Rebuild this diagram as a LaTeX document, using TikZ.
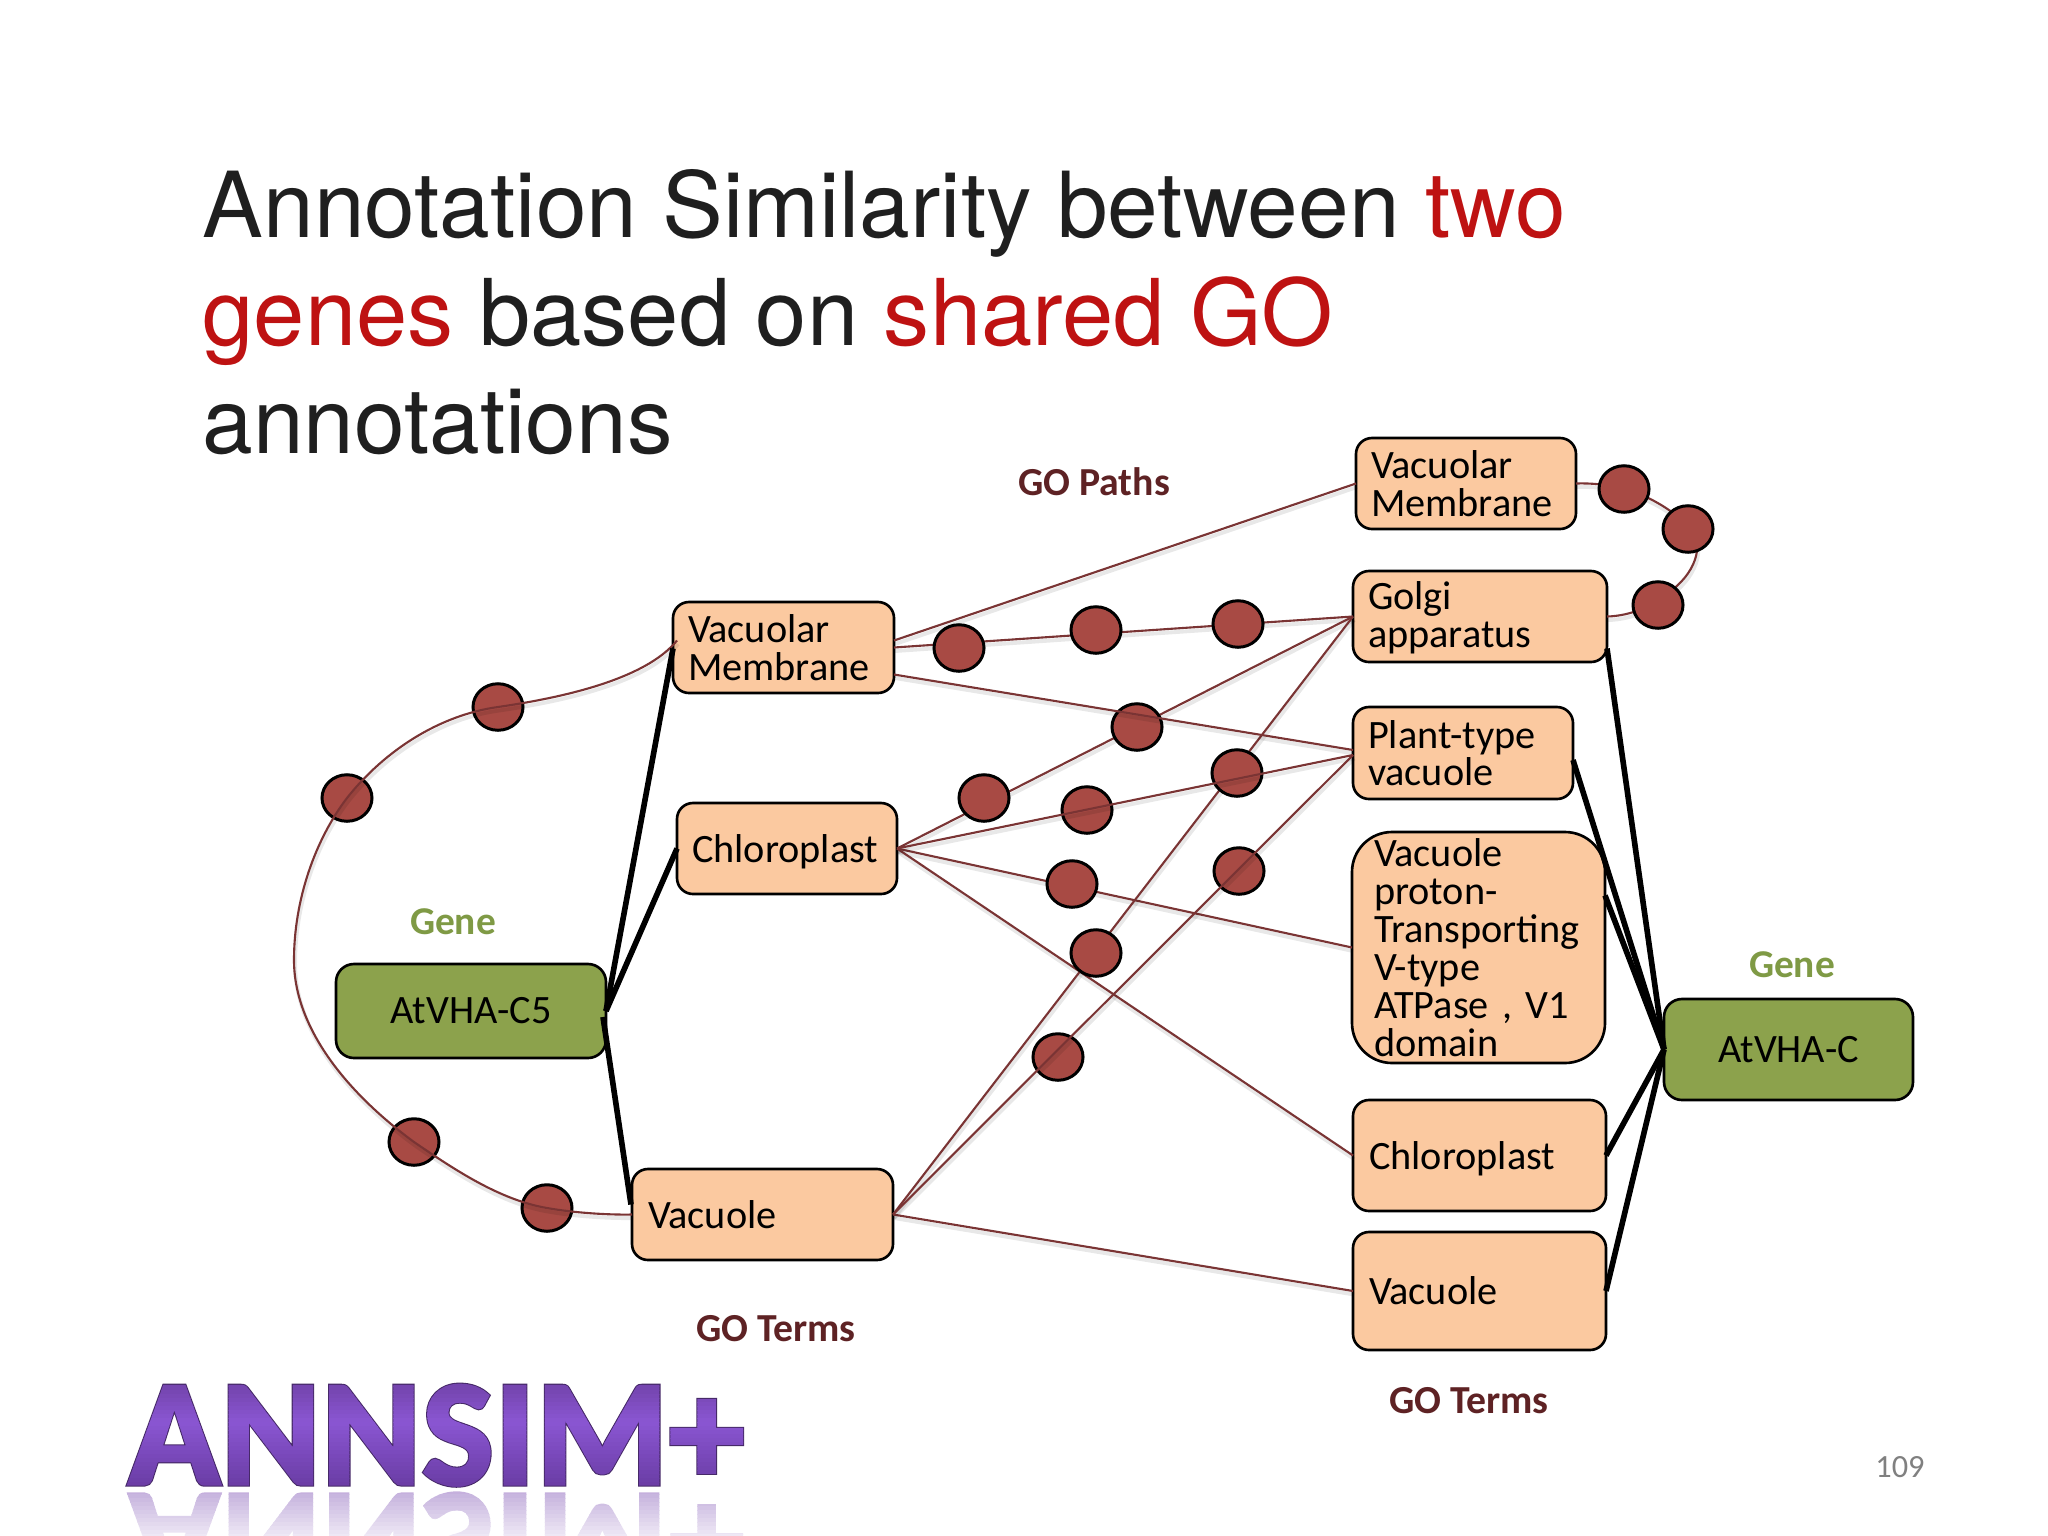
\documentclass[tikz,border=0pt]{standalone}
\usepackage{fontspec}
\usetikzlibrary{calc,shapes.geometric}
\setmainfont{Carlito}
\newfontfamily\titlefont{TeX Gyre Heros}
\newfontfamily\logofont{Carlito}[LetterSpace=0.9,BoldFeatures={FakeBold=2.2}]
\newfontfamily\logooutline{Carlito}[LetterSpace=0.9,BoldFeatures={FakeBold=3.6}]
\definecolor{peach}{HTML}{FBC9A0}
\definecolor{leaf}{HTML}{8CA24C}
\definecolor{dot}{HTML}{A84A44}
\definecolor{wirec}{HTML}{7A3434}
\definecolor{titlered}{HTML}{BE1212}
\definecolor{gotext}{HTML}{5E2224}
\definecolor{genetext}{HTML}{7F9A45}
\definecolor{logoA}{HTML}{7444AE}
\definecolor{logoB}{HTML}{8A56D2}
\definecolor{logoC}{HTML}{6A3CA4}
\tikzset{
  x=0.01cm,y=-0.01cm,
  box/.style n args={3}{draw=black,line width=0.75pt,fill=peach,rounded corners=0.16cm,
    align=left,anchor=center,inner ysep=0pt,inner xsep=#3*0.01cm,
    text width=(#1-2*#3)*0.01cm,minimum height=#2*0.01cm,outer sep=0pt,
    font=\fontsize{11.45}{10.7}\selectfont},
  genebox/.style 2 args={draw=black,line width=0.75pt,fill=leaf,rounded corners=0.18cm,
    align=center,anchor=center,inner sep=0pt,minimum width=#1*0.01cm,minimum height=#2*0.01cm,outer sep=0pt,
    font=\fontsize{11.45}{13}\selectfont},
  wire/.style={draw=wirec,line width=0.6pt,
    preaction={draw=black,opacity=0.09,line width=1.1pt,transform canvas={xshift=0.3pt,yshift=-1pt}}},
  thick wire/.style={draw=black,line width=1.6pt},
  blob/.style={ellipse,draw=black,line width=0.85pt,fill=dot,inner sep=0pt,minimum width=0.5cm,minimum height=0.465cm,outer sep=0pt},
  golabel/.style={font=\fontsize{11.3}{13}\selectfont\bfseries,text=gotext,inner sep=0pt},
  genelabel/.style={font=\fontsize{11.2}{13}\selectfont\bfseries,text=genetext,inner sep=0pt},
  titleline/.style={anchor=base west,inner sep=0pt,text=black!88,font=\fontsize{25.9}{30}\titlefont},
}
\begin{document}
\begin{tikzpicture}
\useasboundingbox (0,0) rectangle (2048,1536);
\fill[white] (0,0) rectangle (2048,1536);

% title
\node[titleline] (t1) at (202,237) {Annotation Similarity between \textcolor{titlered}{two}};
\node[titleline,font=\fontsize{26.2}{30}\titlefont] (t2) at (202,345) {\textcolor{titlered}{genes} based on \textcolor{titlered}{shared GO}};
\node[titleline] (t3) at (202,453) {annotations};

% boxes
\node[box={220}{91}{15}] (rvm) at (1466,483.5) {Vacuolar\\Membrane};
\node[box={254}{91}{15}] (golgi) at (1480,616.5) {\rule{0pt}{8.6pt}Golgi\\apparatus};
\node[box={220}{92}{15}] (plant) at (1463,753) {Plant-type\\vacuole};
\node[box={253}{231}{22},rounded corners=0.4cm,font=\fontsize{11.45}{10.8}\selectfont] (proton) at (1478.5,947.5) {Vacuole\\proton-\\Transporting\\V-type\\ATPase , V1\\domain};
\node[box={253}{111}{16}] (chlR) at (1479.5,1155.5) {\rule{0pt}{9.8pt}Chloroplast};
\node[box={253}{118}{16}] (vacR) at (1479.5,1291) {Vacuole};
\node[box={221}{91}{15}] (lvm) at (783.5,647.5) {Vacuolar\\Membrane};
\node[box={220}{91}{15}] (chlL) at (787,848.5) {\rule{0pt}{9.8pt}Chloroplast};
\node[box={261}{91}{16}] (vacL) at (762.5,1214.5) {Vacuole};
\node[genebox={270}{94}] (c5) at (471,1011) {AtVHA-C5};
\node[genebox={249}{101}] (vhac) at (1788.5,1049.5) {AtVHA-C};

% wires under the dots
\path[wire] ([yshift=0.07cm]lvm.east) -- (rvm.west);
\path[wire] (lvm.east) -- (golgi.west);
\path[wire] (chlL.east) -- (golgi.west);
\path[wire] (chlL.east) -- (proton.west);
\path[wire] (chlL.east) -- (chlR.west);
\path[wire] (vacL.east) -- (golgi.west);
\path[wire] (vacL.east) -- (vacR.west);
\path[wire] (rvm.east) .. controls (1625,482) and (1660,500) .. (1688,525)
   .. controls (1705,540) and (1698,570) .. (1672,590)
   .. controls (1655,606) and (1630,616) .. (golgi.east);

% dots
\foreach \n/\px/\py in {a1/1624/489,a2/1688/529,a3/1658/605,
  b1/959/648,b2/1096/630,b3/1238/624,
  c1/1137/727,c2/984/798,c3/1087/810,c4/1237/773,
  d1/1072/884,d2/1239/871,d3/1096/953,d4/1058/1057,
  e1/498/707,e2/347/798,e3/414/1142,e4/547/1208}
  {\node[blob] (\n) at (\px,\py) {};}

% wires over the dots
\path[wire] ([yshift=-0.27cm]lvm.east) -- ([yshift=0.03cm]plant.west);
\path[wire] (chlL.east) -- ([yshift=-0.02cm]plant.west);
\path[wire] (vacL.east) -- ([yshift=-0.02cm]plant.west);
\path[wire] ([xshift=0.04cm,yshift=0.07cm]lvm.west) .. controls (645,680) and (560,698) .. (e1.center)
   .. controls (440,715) and (385,750) .. (e2.center)
   .. controls (315,840) and (294,900) .. (294,960)
   .. controls (294,1030) and (350,1095) .. (e3.center)
   .. controls (455,1170) and (500,1200) .. (e4.center)
   .. controls (575,1213) and (610,1215) .. (vacL.west);

% thick connectors
\draw[thick wire] (c5.east) -- ([yshift=-0.01cm]lvm.west);
\draw[thick wire] (c5.east) -- (chlL.west);
\draw[thick wire] ([xshift=-0.03cm,yshift=-0.06cm]c5.east) -- ([xshift=-0.01cm,yshift=0.1cm]vacL.west);
\draw[thick wire] (vhac.west) -- ([yshift=-0.32cm]golgi.east);
\draw[thick wire] (vhac.west) -- ([yshift=-0.07cm]plant.east);
\draw[thick wire] (vhac.west) -- ([yshift=0.52cm]proton.east);
\draw[thick wire] (vhac.west) -- (chlR.east);
\draw[thick wire] (vhac.west) -- (vacR.east);

% labels
\node[golabel] (l1) at (1094,482) {GO Paths};
\node[genelabel] (l2) at (453,922) {Gene};
\node[genelabel] (l3) at (1792,965) {Gene};
\node[golabel] (l4) at (776,1329) {GO Terms};
\node[golabel] (l5) at (1469,1401) {GO Terms};
\node[inner sep=0pt,text=black!50,font=\fontsize{9.2}{11}\selectfont] (pg) at (1900,1467) {109};

% logo
\node[anchor=base west,inner sep=0pt,text=black!40!logoA,font=\fontsize{42.8}{50}\logooutline\bfseries] (logo) at (128,1484) {ANNSIM+};
\foreach \i in {0,...,27}{
  \pgfmathsetmacro{\yy}{1378+4*\i}
  \pgfmathsetmacro{\tt}{\yy<1420 ? (\yy-1385)/35*100 : (1485-\yy)/65*100}
  \pgfmathsetmacro{\tc}{max(0,min(100,\tt))}
  \ifdim\yy pt<1420pt
    \colorlet{band}{logoB!\tc!logoA}
  \else
    \colorlet{band}{logoB!\tc!logoC}
  \fi
  \begin{scope}
    \clip (100,\yy) rectangle (780,\yy+4.4);
    \node[anchor=base west,inner sep=0pt,text=band,font=\fontsize{42.8}{50}\logofont\bfseries] (logo\i) at (128,1484) {ANNSIM+};
  \end{scope}
}
\foreach \i in {0,...,11}{
  \pgfmathsetmacro{\yy}{1490+4*\i}
  \pgfmathsetmacro{\tc}{max(0,70-\i*4.5)}
  \colorlet{band}{logoA!\tc!white}
  \begin{scope}
    \clip (100,\yy) rectangle (780,\yy+4.4);
    \node[anchor=base west,inner sep=0pt,text=band!60!white,yscale=-1,transform shape,font=\fontsize{42.8}{50}\logofont\bfseries] (refl\i) at (128,1494) {ANNSIM+};
  \end{scope}
}
\end{tikzpicture}
\end{document}
